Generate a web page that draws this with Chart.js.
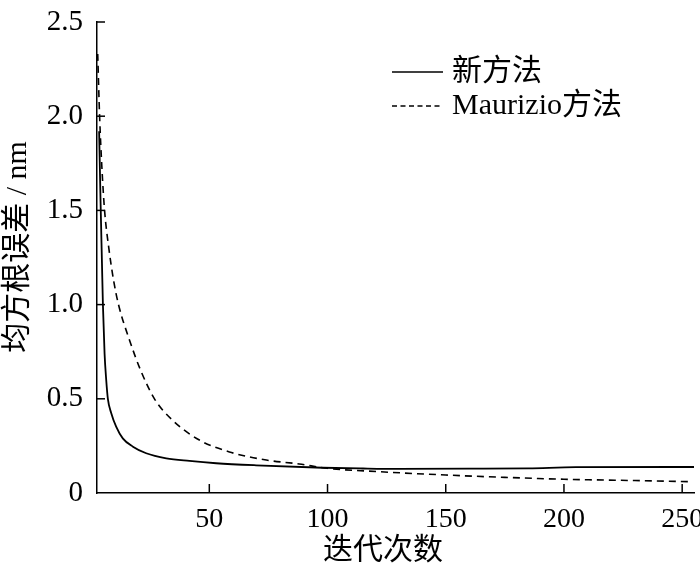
<!DOCTYPE html>
<html>
<head>
<meta charset="utf-8">
<script src="https://cdn.jsdelivr.net/npm/chart.js@4.4.1/dist/chart.umd.min.js"></script>
<style>
  html, body { margin: 0; padding: 0; background: #fff; }
  canvas { display: block; }
</style>
</head>
<body>
<canvas id="rmseChart" width="700" height="567"></canvas>
<script>
// RMSE vs iteration count, two methods
// ============================================================

const seriesLabels = ["新方法", "Maurizio方法"];

// 新方法 (solid)
const newX = [3.4, 4.0, 4.6, 5.0, 5.7, 6.4, 7.1, 8.5, 10.6, 13.4, 17.7, 23.3, 31.8, 41.6, 52.9, 69.8, 97.9, 115, 130, 160, 185, 205, 255];
const newY = [1.92, 1.55, 1.22, 1.0, 0.74, 0.6, 0.5, 0.425, 0.352, 0.29, 0.246, 0.211, 0.184, 0.17, 0.158, 0.147, 0.134, 0.130, 0.128, 0.129, 0.131, 0.137, 0.138];

// Maurizio方法 (dashed)
const mauX = [2.8, 3.6, 4.6, 5.7, 7.5, 9.5, 11.6, 16.3, 21, 26.8, 34.4, 45.8, 58.5, 74.1, 88, 100, 122, 150, 175, 200, 230, 254];
const mauY = [2.33, 2.0, 1.72, 1.5, 1.3, 1.13, 1.0, 0.81, 0.65, 0.5, 0.387, 0.281, 0.218, 0.175, 0.154, 0.131, 0.113, 0.0955, 0.083, 0.073, 0.066, 0.06];

const xTicks = [50, 100, 150, 200, 250];
const yTicks = [0, 0.5, 1.0, 1.5, 2.0, 2.5];
const yTickLabels = ["0", "0.5", "1.0", "1.5", "2.0", "2.5"];

const xTitle = "迭代次数";
const yTitle = "均方根误差 / nm";

const FONT = "'Liberation Serif', 'Noto Sans CJK SC', serif";

// Pair up x and y arrays into {x, y} points
function toPoints(xs, ys) {
  return xs.map(function (x, i) { return { x: x, y: ys[i] }; });
}

// Short tick marks drawn inside the plot, like the original figure
const inwardTicks = {
  id: "inwardTicks",
  afterDatasetsDraw: function (chart) {
    const ctx = chart.ctx;
    const area = chart.chartArea;
    const xs = chart.scales.x;
    const ys = chart.scales.y;
    ctx.save();
    ctx.strokeStyle = "#000";
    ctx.lineWidth = 1.5;
    xs.ticks.forEach(function (t) {
      const px = xs.getPixelForValue(t.value);
      ctx.beginPath();
      ctx.moveTo(px, area.bottom);
      ctx.lineTo(px, area.bottom - 9);
      ctx.stroke();
    });
    ys.ticks.forEach(function (t) {
      if (t.value === 0) return;
      const py = ys.getPixelForValue(t.value);
      ctx.beginPath();
      ctx.moveTo(area.left, py);
      ctx.lineTo(area.left + 8, py);
      ctx.stroke();
    });
    ctx.restore();
  }
};

// Legend in the upper right, plus the two axis titles
// (titles are placed by hand because the original is off-centre)
const boxLegend = {
  id: "boxLegend",
  afterDraw: function (chart) {
    const ctx = chart.ctx;
    const x0 = 392, x1 = 443, textX = 452;
    const rows = [72, 106];
    ctx.save();
    chart.data.datasets.forEach(function (ds, i) {
      const y = rows[i];
      ctx.strokeStyle = "#000";
      ctx.lineWidth = 1.3;
      ctx.setLineDash(i === 1 ? [5, 3.5] : []);
      ctx.beginPath();
      ctx.moveTo(x0, y);
      ctx.lineTo(x1, y);
      ctx.stroke();
      ctx.setLineDash([]);
      ctx.fillStyle = "#000";
      ctx.font = "30px " + FONT;
      ctx.textAlign = "left";
      ctx.textBaseline = "middle";
      ctx.fillText(ds.label, textX, y);
    });

    ctx.font = "30px " + FONT;
    ctx.textAlign = "center";
    ctx.textBaseline = "middle";
    ctx.fillText(xTitle, 383, 551);

    ctx.translate(18, 247);
    ctx.rotate(-Math.PI / 2);
    ctx.fillText(yTitle, 0, 0);
    ctx.restore();
  }
};

new Chart(document.getElementById("rmseChart"), {
  type: "line",
  data: {
    datasets: [
      {
        label: seriesLabels[0],
        data: toPoints(newX, newY),
        borderColor: "#000",
        borderWidth: 1.8,
        pointRadius: 0,
        cubicInterpolationMode: "monotone",
        fill: false
      },
      {
        label: seriesLabels[1],
        data: toPoints(mauX, mauY),
        borderColor: "#000",
        borderWidth: 1.6,
        borderDash: [7, 5],
        pointRadius: 0,
        cubicInterpolationMode: "monotone",
        fill: false
      }
    ]
  },
  options: {
    responsive: false,
    animation: false,
    layout: { padding: { top: 22, right: 6, bottom: 0, left: 0 } },
    plugins: {
      legend: { display: false },
      tooltip: { enabled: false }
    },
    scales: {
      x: {
        type: "linear",
        min: 2.5,
        max: 255,
        afterBuildTicks: function (scale) {
          scale.ticks = xTicks.map(function (v) { return { value: v }; });
        },
        afterFit: function (scale) {
          scale.height = 74;
          scale.paddingLeft = 0;
          scale.paddingRight = 0;
        },
        grid: { display: false, drawTicks: false },
        border: { display: true, color: "#000", width: 1.5 },
        ticks: {
          color: "#000",
          padding: 10,
          maxRotation: 0,
          autoSkip: false,
          font: { family: FONT, size: 28 }
        },
        title: { display: false, text: xTitle }
      },
      y: {
        min: 0,
        max: 2.5,
        afterBuildTicks: function (scale) {
          scale.ticks = yTicks.map(function (v) { return { value: v }; });
        },
        afterFit: function (scale) {
          scale.width = 97;
          scale.paddingTop = 0;
          scale.paddingBottom = 0;
        },
        grid: { display: false, drawTicks: false },
        border: { display: true, color: "#000", width: 1.5 },
        ticks: {
          color: "#000",
          padding: 14,
          autoSkip: false,
          font: { family: FONT, size: 29 },
          callback: function (value) {
            const i = yTicks.indexOf(value);
            return i >= 0 ? yTickLabels[i] : "";
          }
        },
        title: { display: false, text: yTitle }
      }
    }
  },
  plugins: [inwardTicks, boxLegend]
});
</script>
</body>
</html>
